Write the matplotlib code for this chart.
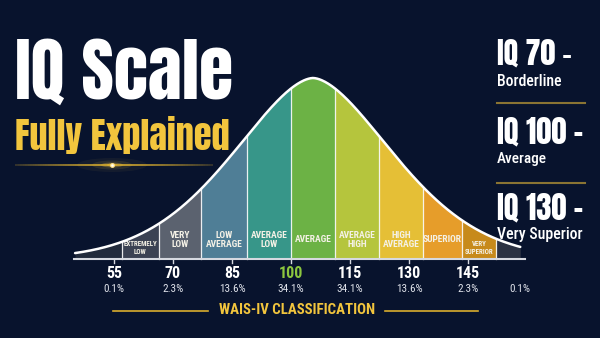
import matplotlib
matplotlib.use("Agg")
import matplotlib.pyplot as plt
import numpy as np
from matplotlib import font_manager
from matplotlib.collections import LineCollection
from matplotlib.patches import Ellipse

# --- data ---
mean_iq = 105.6
spread = 0.0032          # bell width factor
shape_exp = 1.7          # bell shape exponent
band_edges = [45.1, 57.0, 66.4, 77.1, 88.8, 100.0, 111.2, 122.4, 133.6, 143.5, 152.2, 158.3]
band_labels = ["", "EXTREMELY\nLOW", "VERY\nLOW", "LOW\nAVERAGE", "AVERAGE\nLOW", "AVERAGE",
               "AVERAGE\nHIGH", "HIGH\nAVERAGE", "SUPERIOR", "VERY\nSUPERIOR", ""]
band_colors = ["#222b3c", "#3b4253", "#5b626f", "#4f7e96", "#379689", "#6cb245",
               "#b5c53d", "#e5bf36", "#e69d2a", "#c78a1b", "#2b3243"]
tick_values = [55, 70, 85, 100, 115, 130, 145]
pct_pos = [55, 70, 85, 100, 115, 130, 145, 158.2]
pct_labels = ["0.1%", "2.3%", "13.6%", "34.1%", "34.1%", "13.6%", "2.3%", "0.1%"]
side_titles = ["IQ 70 –", "IQ 100 –", "IQ 130 –"]
side_subs = ["Borderline", "Average", "Very Superior"]

BG = "#08132d"
GOLD = "#f2c53d"

weights = {}
for f in font_manager.fontManager.ttflist:
    w = f.weight if isinstance(f.weight, int) else 400
    weights[f.name] = max(weights.get(f.name, 0), w)


def pick(cands):
    for name, min_w in cands:
        if name in weights and weights[name] >= min_w:
            return name
    return "DejaVu Sans"


NARROW = pick([("Roboto Condensed", 600), ("Barlow Condensed", 600), ("Archivo Narrow", 600)])
HEAVY = pick([("Oswald", 600), ("Anton", 0), ("Fjalla One", 0), ("Roboto Condensed", 600)])

fig = plt.figure(figsize=(6, 3.38), dpi=100)
fig.patch.set_facecolor(BG)
ax = fig.add_axes([0, 0, 1, 1])
ax.set_facecolor(BG)
# 1 IQ point ~ 3.933 px, IQ 55 at x=114px ; baseline at y=259px, peak 181px tall
ax.set_xlim(55 - 114 / 3.933, 55 + 486 / 3.933)
ax.set_ylim(-79 / 181, 259 / 181)
ax.axis("off")
renderer = fig.canvas.get_renderer()


def py(y):
    return (259 - y) / 181


def bell(x):
    return np.exp(-spread * np.abs(x - mean_iq) ** shape_exp)


def fit_width(t, width_px):
    w = t.get_window_extent(renderer=renderer).width
    t.set_fontsize(t.get_fontsize() * width_px / w)


# bands
for i in range(len(band_edges) - 1):
    xs = np.linspace(band_edges[i], band_edges[i + 1], 60)
    ax.fill_between(xs, 0, bell(xs), color=band_colors[i], lw=0, zorder=2)
    if 0 < i:
        ax.plot([band_edges[i]] * 2, [0, bell(band_edges[i])], color="white", lw=0.9, alpha=0.9, zorder=3)
    if band_labels[i]:
        xc = (band_edges[i] + band_edges[i + 1]) / 2
        small = i in (1, 9)
        ax.text(xc, py(248 if small else 240), band_labels[i], ha="center", va="center",
                color="#f4f1e6", fontsize=5.0 if small else 6.8, fontweight="bold",
                family=NARROW, linespacing=1.1, zorder=4)

xs = np.linspace(band_edges[0], band_edges[-1], 400)
ax.plot(xs, bell(xs), color="white", lw=1.8, zorder=5, solid_capstyle="round")

# axis line + ticks
ax.plot([44.8, 159.5], [0, 0], color="#d6d9e0", lw=1.5, zorder=6)
for v in tick_values:
    ax.plot([v, v], [0, py(263)], color="#d6d9e0", lw=1.0, zorder=6)
    ax.text(v, py(273), str(v), ha="center", va="center", fontsize=11.5, fontweight="bold",
            family=NARROW, color="#8cc63f" if v == 100 else "white")
for x, t in zip(pct_pos, pct_labels):
    ax.text(x, py(288.5), t, ha="center", va="center", fontsize=8, family=NARROW, color="#dfe2ea")

# WAIS-IV caption
cap = fig.text(297.5 / 600, 1 - 310 / 338, "WAIS-IV CLASSIFICATION", ha="center", va="center",
               fontsize=9, fontweight="bold", family=NARROW, color=GOLD)
fit_width(cap, 156)
fig.add_artist(plt.Line2D([113 / 600, 208 / 600], [1 - 311 / 338] * 2, color="#d9ad2e", lw=1.2))
fig.add_artist(plt.Line2D([385 / 600, 478 / 600], [1 - 311 / 338] * 2, color="#d9ad2e", lw=1.2))

# title
t1 = fig.text(15 / 600, 1 - 99 / 338, "IQ Scale", ha="left", va="baseline", fontsize=52,
              fontweight="bold", family=HEAVY, color="white")
fit_width(t1, 218)
t2 = fig.text(15 / 600, 1 - 150 / 338, "Fully Explained", ha="left", va="baseline", fontsize=27,
              fontweight="bold", family=HEAVY, color=GOLD)
fit_width(t2, 215)

# gold line with glow
gx = np.linspace(15, 213, 80) / 600
gy = 1 - 165 / 338
pts = np.array([gx, np.full_like(gx, gy)]).T.reshape(-1, 1, 2)
segs = np.concatenate([pts[:-1], pts[1:]], axis=1)
alpha = 1 - np.abs(np.linspace(-1, 1, len(segs))) ** 1.5 * 0.75
cols = [(0.85, 0.68, 0.18, a) for a in alpha]
fig.add_artist(LineCollection(segs, colors=cols, linewidths=1.2, transform=fig.transFigure))
for w, h, a in [(70, 14, 0.05), (40, 9, 0.1), (22, 5, 0.25), (10, 3, 0.6)]:
    fig.add_artist(Ellipse((112 / 600, gy), w / 600, h / 338, color="#ffcf4a", alpha=a,
                           lw=0, transform=fig.transFigure))
fig.add_artist(plt.Line2D([112 / 600], [gy], marker="o", ms=3.5, color="#ffe28a", mec="none"))
fig.add_artist(plt.Line2D([112 / 600], [gy], marker="o", ms=1.8, color="white", mec="none"))

# right side notes
tops = [65, 143, 219]
title_w = [75, 86, 86]
sub_w = [65, 50, 86]
for k in range(3):
    a = fig.text(497 / 600, 1 - tops[k] / 338, side_titles[k], ha="left", va="baseline", fontsize=20,
                 fontweight="bold", family=HEAVY, color="white")
    fit_width(a, title_w[k])
    b = fig.text(497 / 600, 1 - (tops[k] + 20.5) / 338, side_subs[k], ha="left", va="baseline", fontsize=11,
                 fontweight="medium", family=NARROW, color="white")
    fit_width(b, sub_w[k])
for y in (103, 183):
    fig.add_artist(plt.Line2D([497 / 600, 585 / 600], [1 - y / 338] * 2, color="#8a7433", lw=1.5))

fig.savefig("out.png", dpi=100, facecolor=BG)
